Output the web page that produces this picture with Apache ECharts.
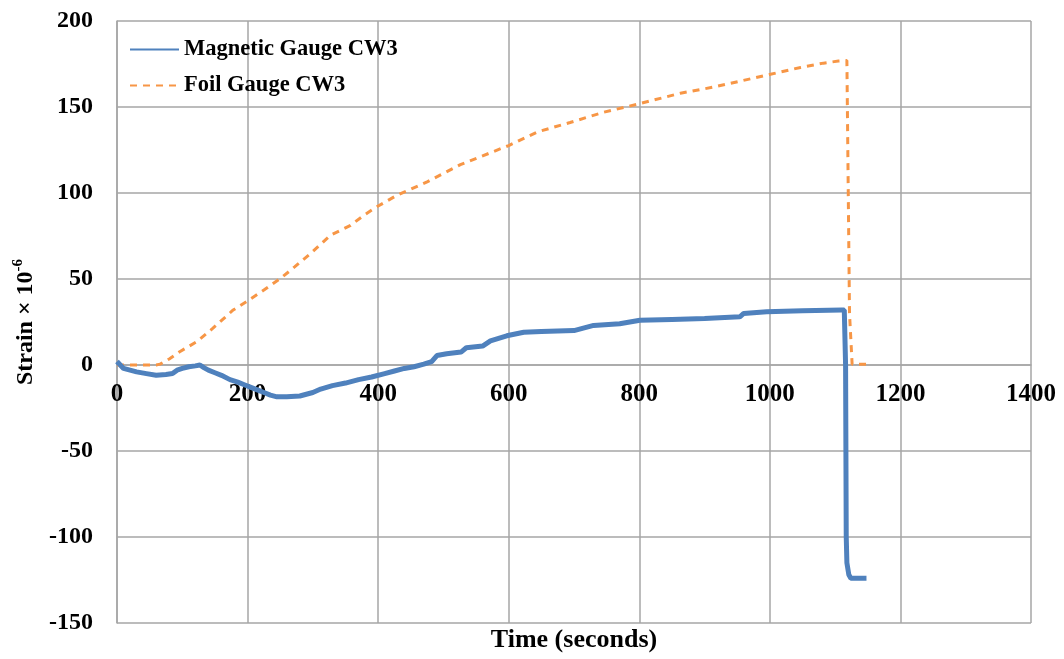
<!DOCTYPE html>
<html>
<head>
<meta charset="utf-8">
<script src="https://cdn.jsdelivr.net/npm/echarts@6/dist/echarts.min.js"></script>
<style>
html,body{margin:0;padding:0;background:#fff;}
#chart{width:1064px;height:659px;}
</style>
</head>
<body>
<div id="chart"></div>
<script>
// ---- Data ----
const magTime   = [0, 5, 10, 20, 30, 45, 60, 75, 85, 92, 100, 110, 120, 127, 133, 140, 150, 160, 173, 185, 195, 205, 215, 225, 235, 245, 260, 280, 290, 300, 312, 330, 350, 370, 390, 410, 425, 440, 455, 470, 482, 490, 505, 527, 535, 560, 572, 597, 623, 650, 700, 730, 770, 801, 850, 900, 954, 960, 995, 1050, 1110, 1114, 1116, 1117, 1118, 1121, 1124, 1148];
const magStrain = [2, 0, -2, -3, -4, -5, -6, -5.5, -5, -3, -2, -1, -0.5, 0, -1.5, -3, -4.5, -6, -8.5, -10, -11.5, -13, -14.5, -16, -17.5, -18.5, -18.5, -18, -17, -16, -14, -12, -10.5, -8.5, -7, -5, -3.5, -2, -1, 0.5, 2, 5.5, 6.5, 7.5, 10, 11, 14, 17, 19, 19.5, 20, 23, 24, 26, 26.5, 27, 28, 30, 31, 31.5, 32, 32, 0, -100, -115, -122, -124, -124];

const foilTime   = [0, 30, 60, 66, 80, 96, 122, 147, 178, 199, 225, 251, 272, 297, 327, 357, 378, 398, 429, 475, 526, 600, 644, 694, 746, 801, 863, 914, 1001, 1047, 1082, 1105, 1118, 1120, 1122, 1126, 1154];
const foilStrain = [0, 0, 0, 0.5, 3.5, 7.7, 13.5, 21.4, 32, 37, 43.6, 50.5, 57, 65, 75.5, 81, 87, 92, 98.7, 106.5, 116.5, 127.6, 135.5, 141, 147, 152, 158, 161.6, 169, 173, 175.5, 176.7, 177, 176, 30, 0.5, 0.5];

const xTicks = {min: 0, max: 1400, step: 200};
const yTicks = {min: -150, max: 200, step: 50};
const seriesNames = ['Magnetic Gauge CW3', 'Foil Gauge CW3'];

const magData  = magTime.map((t, i) => [t, magStrain[i]]);
const foilData = foilTime.map((t, i) => [t, foilStrain[i]]);

const FONT = '"Liberation Serif", "Times New Roman", serif';
const GRID = '#a6a6a6';

// layout
const W = 1064, H = 659;
const gridLeft = 117, gridRight = 33, gridTop = 21, gridBottom = 36;
const gridH = H - gridTop - gridBottom;
// the horizontal axis crosses the vertical one at 0 (as in the original)
const zeroOffset = -gridH * (0 - yTicks.min) / (yTicks.max - yTicks.min);
const xTitleY = 627; // top of the x title in the reference
const zeroY = gridTop + gridH * (yTicks.max - 0) / (yTicks.max - yTicks.min);

const chart = echarts.init(document.getElementById('chart'), null, {renderer: 'canvas'});
chart.setOption({
  animation: false,
  backgroundColor: '#ffffff',
  grid: {left: gridLeft, right: gridRight, top: gridTop, bottom: gridBottom, containLabel: false, outerBoundsMode: 'none'},
  legend: {
    orient: 'vertical',
    left: 124, top: 33,
    itemWidth: 49, itemHeight: 24, itemGap: 13,
    itemStyle: {opacity: 0},
    textStyle: {fontFamily: FONT, fontWeight: 'bold', fontSize: 22.5, color: '#000'},
    data: seriesNames
  },
  xAxis: {
    type: 'value',
    position: 'bottom',
    offset: zeroOffset,
    z: 0,
    min: xTicks.min, max: xTicks.max, interval: xTicks.step,
    axisLine: {show: true, onZero: false, lineStyle: {color: GRID, width: 1.5}},
    axisTick: {show: false},
    axisLabel: {fontFamily: FONT, fontWeight: 'bold', fontSize: 25, color: '#000', margin: 17,
                formatter: v => String(v)},
    splitLine: {show: true, lineStyle: {color: GRID, width: 1.5}},
    name: 'Time (seconds)',
    nameLocation: 'middle',
    nameGap: xTitleY - zeroY,
    nameTextStyle: {fontFamily: FONT, fontWeight: 'bold', fontSize: 26, color: '#000', verticalAlign: 'top'}
  },
  yAxis: {
    type: 'value',
    z: 0,
    min: yTicks.min, max: yTicks.max, interval: yTicks.step,
    axisLine: {show: true, onZero: false, lineStyle: {color: GRID, width: 1.5}},
    axisTick: {show: false},
    axisLabel: {fontFamily: FONT, fontWeight: 'bold', fontSize: 24, color: '#000', margin: 24,
                formatter: v => String(v)},
    splitLine: {show: true, lineStyle: {color: GRID, width: 1.5}},
    name: '{a|Strain × 10}{b|-6}',
    nameLocation: 'middle',
    nameGap: 66,
    nameRotate: 90,
    nameTextStyle: {
      fontFamily: FONT, fontWeight: 'bold', color: '#000',
      rich: {
        a: {fontFamily: FONT, fontWeight: 'bold', fontSize: 24, color: '#000', lineHeight: 30},
        b: {fontFamily: FONT, fontWeight: 'bold', fontSize: 15, color: '#000', verticalAlign: 'top', lineHeight: 30, padding: [0, 0, 12, 0]}
      }
    }
  },
  series: [
    {
      name: seriesNames[0], type: 'line', data: magData,
      showSymbol: false, symbol: 'none',
      lineStyle: {color: '#4F81BD', width: 5},
      itemStyle: {color: '#4F81BD'},
      z: 5
    },
    {
      name: seriesNames[1], type: 'line', data: foilData,
      showSymbol: false, symbol: 'none',
      lineStyle: {color: '#F79646', width: 3, type: [7, 6]},
      itemStyle: {color: '#F79646'},
      z: 4
    }
  ]
});
</script>
</body>
</html>
